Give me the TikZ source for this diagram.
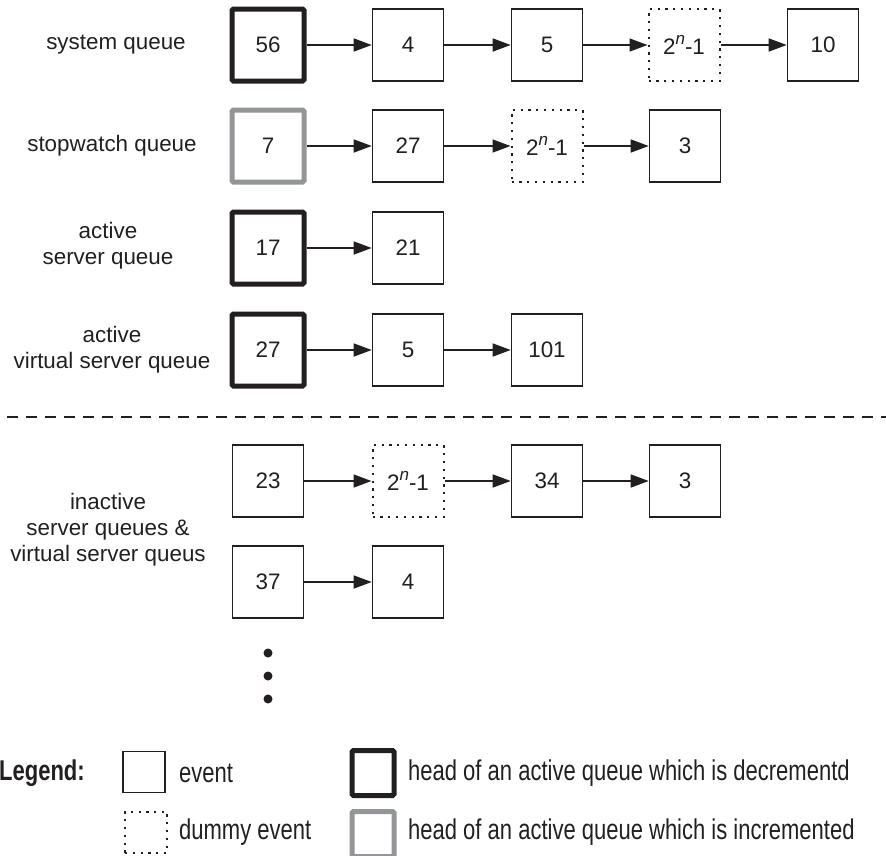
\documentclass[tikz,border=0pt]{standalone}
\usepackage{fontspec}
\setmainfont{Liberation Sans}
\usepackage{graphicx}
\usetikzlibrary{arrows.meta}
\definecolor{ink}{RGB}{35,31,32}
\definecolor{headgray}{RGB}{148,149,152}
\newcommand{\twon}{2\raisebox{0.42em}{\fontsize{17}{17}\selectfont\textit{n}}-1}
\newcommand{\lgd}[1]{\scalebox{1}[1.3]{#1}}
\begin{document}
\begin{tikzpicture}[x=1pt,y=-1pt,
  every node/.style={font=\fontsize{22.4}{26}\selectfont, text=ink},
  ev/.style={draw=ink, line width=1.6pt, minimum width=71pt, minimum height=72pt, inner sep=0pt},
  dummy/.style={ev, line width=2pt, dash pattern=on 2.2pt off 5.6pt},
  dech/.style={ev, line width=5pt, rounded corners=1.5pt, minimum width=72pt},
  inch/.style={dech, draw=headgray},
  arr/.style={draw=ink, line width=1.5pt, -{Triangle[length=18pt,width=13pt]}},
  qlabel/.style={align=center},
  lev/.style={draw=ink, line width=1.6pt, minimum width=42pt, minimum height=41pt, inner sep=0pt},
  ldummy/.style={lev, line width=2pt, dash pattern=on 2.2pt off 5.6pt},
  ldech/.style={lev, line width=5pt, rounded corners=1.5pt, minimum width=42pt, minimum height=45pt},
  linch/.style={ldech, draw=headgray},
  ltext/.style={anchor=west, inner sep=0pt},
]
\useasboundingbox (0,0) rectangle (886,855);

% column centres 268, 408, 547, 684, 823
% row 1: system queue
\node[qlabel] (l1) at (116,45) {system queue};
\node[dech] (a1) at (268,45) {56};
\node[ev] (a2) at (408,45) {4};
\node[ev] (a3) at (547,45) {5};
\node[dummy] (a4) at (684,45) {\twon};
\node[ev] (a5) at (823,45) {10};
\draw[arr] (a1.east) -- (a2.west);
\draw[arr] (a2.east) -- (a3.west);
\draw[arr] (a3.east) -- (a4.west);
\draw[arr] (a4.east) -- (a5.west);

% row 2: stopwatch queue
\node[qlabel] (l2) at (112,146) {stopwatch queue};
\node[inch] (b1) at (268,146) {7};
\node[ev] (b2) at (408,146) {27};
\node[dummy] (b3) at (547,146) {\twon};
\node[ev] (b4) at (685,146) {3};
\draw[arr] (b1.east) -- (b2.west);
\draw[arr] (b2.east) -- (b3.west);
\draw[arr] (b3.east) -- (b4.west);

% row 3: active server queue
\node[qlabel] (l3) at (108,246) {active\\server queue};
\node[dech] (c1) at (268,248) {17};
\node[ev] (c2) at (408,248) {21};
\draw[arr] (c1.east) -- (c2.west);

% row 4: active virtual server queue
\node[qlabel] (l4) at (112,350) {active\\virtual server queue};
\node[dech] (d1) at (268,350) {27};
\node[ev] (d2) at (408,350) {5};
\node[ev] (d3) at (547,350) {101};
\draw[arr] (d1.east) -- (d2.west);
\draw[arr] (d2.east) -- (d3.west);

% separator
\draw[draw=ink, line width=1.5pt, dash pattern=on 11pt off 8pt] (7,417) -- (886,417);

% inactive queues
\node[qlabel] (l5) at (108,530) {inactive\\server queues \&\\virtual server queus};
\node[ev] (e1) at (268,481) {23};
\node[dummy] (e2) at (408,481) {\twon};
\node[ev] (e3) at (547,481) {34};
\node[ev] (e4) at (685,481) {3};
\draw[arr] (e1.east) -- (e2.west);
\draw[arr] (e2.east) -- (e3.west);
\draw[arr] (e3.east) -- (e4.west);

\node[ev] (f1) at (268,582) {37};
\node[ev] (f2) at (408,582) {4};
\draw[arr] (f1.east) -- (f2.west);

% dots
\fill[ink] (268,653) circle (4.5pt);
\fill[ink] (268,676) circle (4.5pt);
\fill[ink] (268,699) circle (4.5pt);

% legend
\node[ltext, font=\fontsize{22}{26}\selectfont\bfseries] (lg) at (-1,773) {\lgd{Legend:}};
\node[lev] (k1) at (144,772) {};
\node[ltext, font=\fontsize{22}{26}\selectfont] (t1) at (179,773) {\lgd{event}};
\node[ldummy] (k2) at (146,832) {};
\node[ltext, font=\fontsize{22}{26}\selectfont] (t2) at (179,832) {\lgd{dummy event}};
\node[ldech] (k3) at (373,773) {};
\node[ltext, font=\fontsize{22}{26}\selectfont] (t3) at (408,773) {\lgd{head of an active queue which is decrementd}};
\node[linch] (k4) at (373,834) {};
\node[ltext, font=\fontsize{22}{26}\selectfont] (t4) at (408,832) {\lgd{head of an active queue which is incremented}};
\end{tikzpicture}
\end{document}
